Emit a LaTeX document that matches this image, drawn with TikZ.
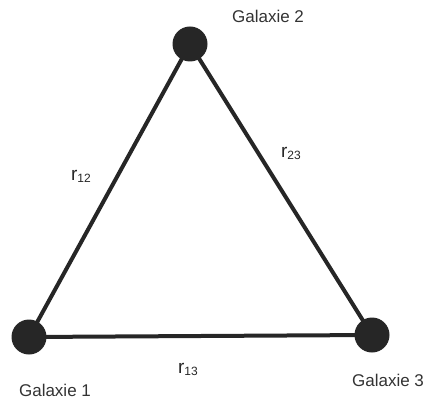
\documentclass[tikz,border=0pt]{standalone}
\usepackage{fontspec}
\setmainfont{Liberation Sans}
\begin{document}
\begin{tikzpicture}[x=1pt,y=-1pt,
  gal/.style={circle,fill=black!85,minimum size=35pt,inner sep=0pt},
  edge/.style={line width=4pt,draw=black!85},
  lab/.style={text=black!80,font=\fontsize{17}{19}\selectfont,inner sep=0pt},
  rlab/.style={text=black!85,inner sep=0pt}]
\useasboundingbox (0,0) rectangle (427,403);
\coordinate (c1) at (29,337);
\coordinate (c2) at (190,44);
\coordinate (c3) at (372,335);
\draw[edge] (c1) -- (c2) -- (c3) -- cycle;
\node[gal] (g1) at (c1) {};
\node[gal] (g2) at (c2) {};
\node[gal] (g3) at (c3) {};
\node[lab] (l2) at (268,16) {Galaxie 2};
\node[lab] (l1) at (55,390) {Galaxie 1};
\node[lab] (l3) at (388,380) {Galaxie 3};
\node[rlab] (r12) at (81,176) {\fontsize{19}{20}\selectfont r\raisebox{-2pt}{\fontsize{12}{13}\selectfont 12}};
\node[rlab] (r23) at (291,153) {\fontsize{19}{20}\selectfont r\raisebox{-2pt}{\fontsize{12}{13}\selectfont 23}};
\node[rlab] (r13) at (188,369) {\fontsize{19}{20}\selectfont r\raisebox{-2pt}{\fontsize{12}{13}\selectfont 13}};
\end{tikzpicture}
\end{document}
